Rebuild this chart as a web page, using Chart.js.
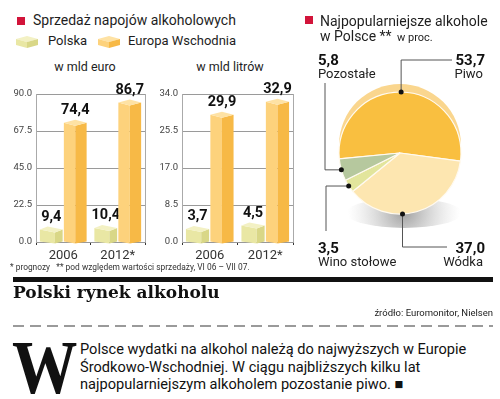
<!DOCTYPE html>
<html><head><meta charset="utf-8">
<script src="https://cdn.jsdelivr.net/npm/chart.js@4"></script>
<style>
body{margin:0;width:500px;height:399px;background:#fff;position:relative;overflow:hidden;font-family:Roboto,sans-serif;color:#1e1e1e}
.t{position:absolute;white-space:nowrap;line-height:1.2}
.b{font-weight:bold}
canvas{position:absolute}
.sq{position:absolute;width:8px;height:8px;background:#d2143a}
</style></head><body>

<script>
// ---- data ----
const years = ['2006', '2012*'];
const seriesNames = ['Polska', 'Europa Wschodnia'];
const polskaEuro = [9.4, 10.4];
const europaEuro = [74.4, 86.7];
const polskaLitry = [3.7, 4.5];
const europaLitry = [29.9, 32.9];
const euroTicks = [0, 22.5, 45, 67.5, 90];
const litryTicks = [0, 8.5, 17, 25.5, 34];
const pieLabels = ['Piwo', 'Wódka', 'Wino stołowe', 'Pozostałe'];
const pieValues = [53.7, 37.0, 3.5, 5.8];
</script>

<div class="sq" style="left:17px;top:17px"></div>
<div class="t" style="left:33px;top:12px;font-size:14px">Sprzedaż napojów alkoholowych</div>
<svg style="position:absolute;left:16px;top:36px" width="23" height="12"><polygon points="0,3 11,0 22,3 11,6" fill="#f3f1c4"/><polygon points="0,3 11,6 11,12 0,9" fill="#e9e7a4"/><polygon points="11,6 22,3 22,9 11,12" fill="#d9d787"/></svg>
<div class="t" style="left:48px;top:33px;font-size:13px" id="lg0"></div>
<svg style="position:absolute;left:98px;top:36px" width="23" height="12"><polygon points="0,3 11,0 22,3 11,6" fill="#fee2a4"/><polygon points="0,3 11,6 11,12 0,9" fill="#fdd27c"/><polygon points="11,6 22,3 22,9 11,12" fill="#f7b946"/></svg>
<div class="t" style="left:128px;top:33px;font-size:13px" id="lg1"></div>
<div class="t" style="left:85px;top:59px;font-size:12.5px;transform:translateX(-50%)">w mld euro</div>
<div class="t" style="left:230px;top:59px;font-size:12.5px;transform:translateX(-50%)">w mld litrów</div>

<canvas id="c1" width="150" height="185" style="left:0;top:80px"></canvas>
<canvas id="c2" width="150" height="185" style="left:148px;top:80px"></canvas>
<canvas id="c3" width="200" height="206" style="left:300px;top:50px"></canvas>

<div class="t" style="left:10px;top:262px;font-size:8.4px;color:#333">* prognozy &nbsp;&nbsp;** pod względem wartości sprzedaży, VI 06 – VII 07.</div>

<div class="sq" style="left:305px;top:16px"></div>
<div class="t" style="left:320px;top:13px;font-size:14px">Najpopularniejsze alkohole</div>
<div class="t" style="left:320px;top:28px;font-size:14px">w Polsce **</div>
<div class="t" style="left:397px;top:31px;font-size:11px">w proc.</div>

<div id="pielab"></div>

<div style="position:absolute;left:13px;top:277px;width:480px;height:5px;background:#111"></div>
<div class="t b" style="left:13px;top:282px;font-family:'DejaVu Serif',serif;font-size:17px;color:#111">Polski rynek alkoholu</div>
<div class="t" style="right:7px;top:307px;font-size:9.5px;color:#222">źródło: Euromonitor, Nielsen</div>
<div style="position:absolute;left:13px;top:325px;width:480px;height:1.5px;background:repeating-linear-gradient(90deg,#9a9a9a 0 11px,transparent 11px 17px)"></div>
<div class="t b" style="left:12px;top:329px;font-family:'Liberation Serif',serif;font-size:76px;line-height:1;transform:scaleX(0.86);transform-origin:left top;color:#111">W</div>
<div class="t" style="left:80px;top:341px;font-size:14.6px;line-height:17.5px;color:#111">Polsce wydatki na alkohol należą do najwyższych w Europie<br>Środkowo-Wschodniej. W ciągu najbliższych kilku lat<br>najpopularniejszym alkoholem pozostanie piwo. ■</div>

<script>
document.getElementById('lg0').textContent = seriesNames[0];
document.getElementById('lg1').textContent = seriesNames[1];
const fmt = v => v.toFixed(1).replace('.', ',');

// pie labels (layout positions)
const pieLabelPos = [
  {side:'right', x:15, y:60},   // Piwo
  {side:'right', x:15, y:248},  // Wódka
  {side:'left',  x:318, y:248}, // Wino
  {side:'left',  x:318, y:60}   // Pozostałe
];
let h = '';
pieLabels.forEach((l, i) => {
  const p = pieLabelPos[i];
  const hp = p.side === 'left' ? `left:${p.x}px` : `right:${p.x}px`;
  const hp2 = p.side === 'left' ? `left:${p.x}px` : `right:${p.x + 2}px`;
  h += `<div class="t b" style="${hp};top:${p.y - 9}px;font-size:15px;color:#111">${fmt(pieValues[i])}</div>`;
  h += `<div class="t" style="${hp2};top:${p.y + 6}px;font-size:13px;color:#222">${l}</div>`;
});
document.getElementById('pielab').innerHTML = h;

const faceStyles = [
  {front:'#e9e7a4', side:'#d9d787', top:'#f3f1c4', split:0.66},
  {front:'#fdd27c', side:'#f7b946', top:'#fee2a4', split:0.5}
];
const box3d = {
  id:'box3d',
  afterDatasetsDraw(chart){
    const ctx = chart.ctx;
    ctx.save();
    chart.data.datasets.forEach((ds, di) => {
      const st = faceStyles[di];
      chart.getDatasetMeta(di).data.forEach((bar, i) => {
        const L = bar.x - bar.width/2, R = bar.x + bar.width/2, T = bar.y, B = bar.base;
        const M = L + (R - L) * st.split, d = 3;
        const poly = (pts, c) => { ctx.beginPath(); pts.forEach((p, k) => k ? ctx.lineTo(p[0], p[1]) : ctx.moveTo(p[0], p[1])); ctx.closePath(); ctx.fillStyle = c; ctx.fill(); };
        poly([[L,T+d],[M,T+2*d],[M,B+2],[L,B]], st.front);
        poly([[M,T+2*d],[R,T+d],[R,B],[M,B+2]], st.side);
        poly([[L,T+d],[L+R-M,T],[R,T+d],[M,T+2*d]], st.top);
        ctx.fillStyle = '#111';
        ctx.font = 'bold 14.5px Roboto';
        ctx.textAlign = 'center';
        ctx.textBaseline = 'bottom';
        ctx.fillText(fmt(ds.data[i]), bar.x, T - 2);
      });
    });
    const a = chart.chartArea;
    ctx.strokeStyle = '#aaa'; ctx.lineWidth = 1;
    ctx.beginPath(); ctx.moveTo(a.right + 0.5, a.top); ctx.lineTo(a.right + 0.5, a.bottom); ctx.stroke();
    ctx.restore();
  }
};

function barChart(id, pl, eu, ticks, yw) {
  const max = ticks[ticks.length - 1];
  new Chart(document.getElementById(id), {
    type:'bar',
    data:{labels:years, datasets:[
      {label:seriesNames[0], data:pl, backgroundColor:'rgba(0,0,0,0)'},
      {label:seriesNames[1], data:eu, backgroundColor:'rgba(0,0,0,0)'}
    ]},
    options:{
      responsive:false, animation:false, events:[],
      layout:{padding:{top:14, right:5, left:0, bottom:0}},
      datasets:{bar:{categoryPercentage:0.88, barPercentage:0.95}},
      plugins:{legend:{display:false}, tooltip:{enabled:false}},
      scales:{
        x:{offset:true, grid:{offset:true, drawOnChartArea:false, drawTicks:true, tickLength:3, color:'#333'},
           border:{display:true, color:'#999'},
           ticks:{font:{family:'Roboto', size:13}, color:'#333', padding:3, maxRotation:0},
           afterFit(s){ s.height = 23; }},
        y:{min:0, max:max, afterBuildTicks(s){ s.ticks = ticks.map(v => ({value:v})); },
           grid:{color:'#9a9a9a', drawTicks:false},
           border:{display:true, color:'#aaa'},
           ticks:{font:{family:'Roboto', size:9.5}, color:'#444', padding:4, callback:v => v.toFixed(1)},
           afterFit(s){ s.width = yw; }}
      }
    },
    plugins:[box3d]
  });
}
barChart('c1', polskaEuro, europaEuro, euroTicks, 36);
barChart('c2', polskaLitry, europaLitry, litryTicks, 34);

// pie
const anchorFrac = [0.5, 0.6, 0.5, 0.5];
const leaders = [
  [['v',60],['h',452]],
  [['v',247],['h',447]],
  [['h',326],['v',231]],
  [['h',325],['v',83]]
];
const pieDeco = {
  id:'pieDeco',
  beforeDatasetsDraw(chart){
    const el = chart.getDatasetMeta(0).data[0];
    const ctx = chart.ctx, cx = el.x, cy = el.y, r = el.outerRadius;
    ctx.save();
    const g = ctx.createRadialGradient(cx + 4, cy + r - 2, 2, cx + 4, cy + r - 2, 56);
    g.addColorStop(0, 'rgba(140,140,140,0.8)');
    g.addColorStop(1, 'rgba(200,200,200,0)');
    ctx.fillStyle = g;
    ctx.beginPath(); ctx.ellipse(cx + 4, cy + r - 1, 58, 15, 0, 0, Math.PI*2); ctx.fill();
    ctx.fillStyle = '#fad68e';
    ctx.beginPath(); ctx.arc(cx, cy - 8, r, 0, Math.PI*2); ctx.fill();
    ctx.restore();
  },
  afterDatasetsDraw(chart){
    const ctx = chart.ctx;
    const ox = 300, oy = 50;
    ctx.save();
    chart.getDatasetMeta(0).data.forEach((el, i) => {
      const ang = el.startAngle + anchorFrac[i] * (el.endAngle - el.startAngle);
      const px = el.x + el.outerRadius * Math.cos(ang), py = el.y + el.outerRadius * Math.sin(ang);
      ctx.strokeStyle = '#555'; ctx.lineWidth = 1;
      ctx.beginPath(); ctx.moveTo(px, py);
      let x = px, y = py;
      leaders[i].forEach(([d, v]) => { if (d === 'v') y = v - oy; else x = v - ox; ctx.lineTo(x, y); });
      ctx.stroke();
      ctx.fillStyle = '#111';
      ctx.beginPath(); ctx.arc(px, py, 2.5, 0, Math.PI*2); ctx.fill();
    });
    ctx.restore();
  }
};
new Chart(document.getElementById('c3'), {
  type:'pie',
  data:{labels:pieLabels, datasets:[{data:pieValues,
    backgroundColor:['#f9bf40', '#fde6b0', '#e2e59c', '#b6c89e'],
    borderColor:'#fffaf0', borderWidth:1.2}]},
  options:{responsive:false, animation:false, events:[], radius:61, rotation:264.4,
    layout:{padding:0},
    plugins:{legend:{display:false}, tooltip:{enabled:false}}},
  plugins:[pieDeco]
});
</script>
</body></html>
